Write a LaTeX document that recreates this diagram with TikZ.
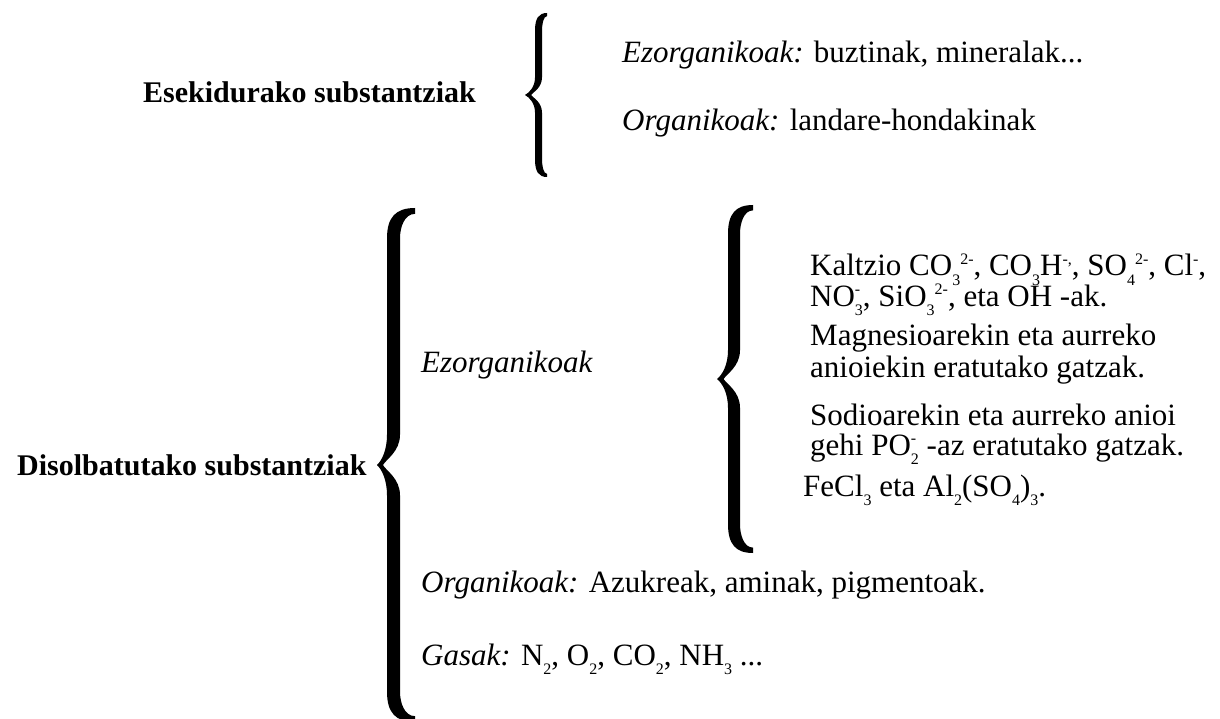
\documentclass[tikz,border=0pt]{standalone}
\usepackage{fontspec}
\setmainfont{Liberation Serif}
\usetikzlibrary{positioning, calc}

\newcommand\chsub[1]{\raisebox{-0.3em}{\fontsize{16}{16}\selectfont #1}}
\newcommand\chsup[1]{\raisebox{0.38em}{\fontsize{16}{16}\selectfont #1}}
\newcommand\chion[2]{\rlap{\chsup{#2}}\chsub{#1}}

\begin{document}
\begin{tikzpicture}[x=1pt, y=-1pt]
  % #1 tip, #2 half height, #3 stem offset, #4 stem width, #5 reach
  \newcommand\fatbrace[5]{
    \foreach \s in {1,-1}{
      \fill[shift={(#1)}, yscale=\s] (0,0)
        .. controls ({0.5*#3},{-0.12*#5}) and ({#3},{-0.4*#5}) .. ({#3},{-0.8*#5})
        -- ({#3},{-#2+0.8*#5})
        .. controls ({#3},{-#2+0.25*#5}) and ({#3+0.3*(#5-#3)},{-#2}) .. ({#5},{-#2})
        -- ({#5},{-#2+0.45*#4})
        .. controls ({#3+#4+0.3*(#5-#3-#4)},{-#2+0.45*#4}) and ({#3+#4},{-#2+0.5*#5}) .. ({#3+#4},{-#2+0.8*#5})
        -- ({#3+#4},{-0.8*#5})
        .. controls ({#3+#4},{-0.35*#5}) and ({0.9*#3},{-0.15*#5}) .. ({0.6*#3},0)
        -- cycle;
    }
  }

  \tikzset{txt/.style={inner sep=0pt, anchor=base west, font=\fontsize{31}{35}\selectfont}}
  \tikzset{lbl/.style={txt, font=\fontsize{30}{35}\selectfont\bfseries}}

  \useasboundingbox (0,0) rectangle (1220,719);

  % suspended
  \node[lbl] (esek) at (143,103) {Esekidurako substantziak};
  \coordinate (esekbr) at (525,95);
  \fatbrace{esekbr}{82}{10}{7}{22}
  \node[txt] (esek-ez) at (622,63) {\textit{Ezorganikoak:} buztinak, mineralak...};
  \node[txt] (esek-org) at (622,131) {\textit{Organikoak:} landare-hondakinak};

  % dissolved
  \node[lbl] (disol) at (17,475) {Disolbatutako substantziak};
  \coordinate (disolbr) at (377,465);
  \fatbrace{disolbr}{257}{10}{13}{38}
  \node[txt] (disol-ez) at (421,372) {\textit{Ezorganikoak}};
  \coordinate (ionbr) at (717,379);
  \fatbrace{ionbr}{174}{11}{12}{36}
  \foreach \ybase/\xbase/\txt [count=\i] in {
      276/810/{Kaltzio CO\chsub{3}\chsup{2-}, CO\chsub{3}H\chsup{-,}, SO\chsub{4}\chsup{2-}, Cl\chsup{-},},
      306/810/{NO\chion{3}{-}, SiO\chsub{3}\chsup{2-}, eta OH -ak.},
      345/810/{Magnesioarekin eta aurreko},
      377/810/{anioiekin eratutako gatzak.},
      425/810/{Sodioarekin eta aurreko anioi},
      455/810/{gehi PO\chion{2}{-} -az eratutako gatzak.},
      496/803/{FeCl\chsub{3} eta Al\chsub{2}(SO\chsub{4})\chsub{3}.}}{
    \node[txt] (ion\i) at (\xbase,\ybase) {\txt};
  }
  \node[txt] (disol-org) at (421,592) {\textit{Organikoak:} Azukreak, aminak, pigmentoak.};
  \node[txt] (disol-gas) at (421,665) {\textit{Gasak:} N\chsub{2}, O\chsub{2}, CO\chsub{2}, NH\chsub{3} ...};
\end{tikzpicture}
\end{document}
